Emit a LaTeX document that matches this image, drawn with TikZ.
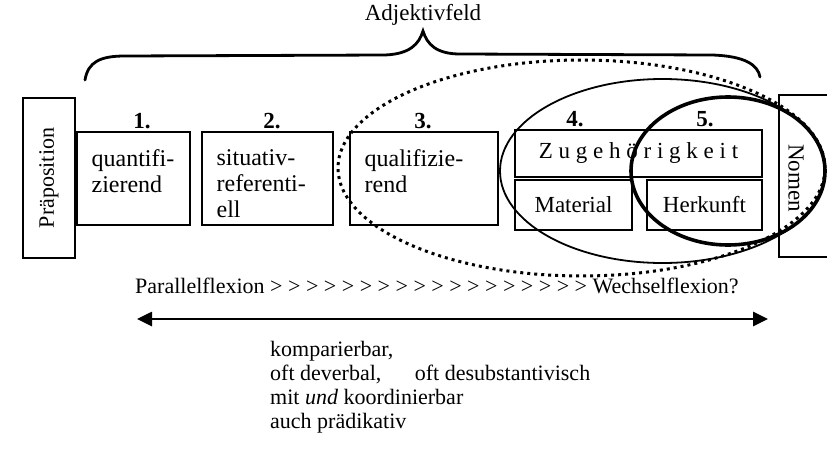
\documentclass[tikz,border=0pt]{standalone}
\usepackage{fontspec}
\setmainfont{Liberation Serif}
\usetikzlibrary{positioning, arrows.meta}

\begin{document}
\begin{tikzpicture}[
        x=1pt, y=-1pt,
        field/.style={rectangle, draw, line width=1.2pt, inner sep=0pt},
        fieldtext/.style={anchor=north west, align=left, inner sep=0pt, font=\fontsize{24}{26}\selectfont},
        boxtext/.style={inner sep=0pt, font=\fontsize{23}{25}\selectfont},
        numlabel/.style={inner sep=0pt, font=\fontsize{23}{24}\selectfont\bfseries},
        plaintext/.style={inner sep=0pt, font=\fontsize{22}{24}\selectfont},
        brace/.style={line width=2.8pt, line cap=round},
        dotring/.style={line width=3pt, dash pattern=on 3pt off 4pt},
        thinring/.style={line width=1.8pt},
        thickring/.style={line width=3.6pt},
        scalearrow/.style={{Triangle[length=15pt,width=14pt]}-{Triangle[length=15pt,width=14pt]}, line width=2.6pt}
    ]
        \useasboundingbox (0,0) rectangle (827,463);
        \clip (0,0) rectangle (827,463);

        % Adjektivfeld brace
        \node[plaintext, font=\fontsize{23}{24}\selectfont] (ADJ) at (423,15) {Adjektivfeld};
        \draw[brace] (85,80) .. controls (88,62) and (100,56) .. (125,56) -- (385,55)
            .. controls (410,54) and (419,44) .. (423,31)
            .. controls (427,44) and (436,54) .. (460,54) -- (712,55)
            .. controls (745,56) and (758,65) .. (760,77);

        % Left and right neighbours
        \node[field, minimum width=52pt, minimum height=160pt] (PRAEP) at (49,178) {};
        \node[boxtext, font=\fontsize{22}{24}\selectfont, rotate=90] at (PRAEP) {Präposition};
        \node[field, minimum width=66pt, minimum height=162pt] (NOMEN) at (812,176) {};
        \node[boxtext, rotate=-90] at (796,178) {Nomen};

        % Fields 1-3
        \node[field, minimum width=113pt, minimum height=93pt] (F1) at (133.5,178.5) {};
        \node[field, minimum width=131pt, minimum height=93pt] (F2) at (267.5,178.5) {};
        \node[field, minimum width=148pt, minimum height=93pt] (F3) at (424,178.5) {};
        \node[fieldtext, xshift=15pt, yshift=-18pt] at (F1.north west) {quantifi-\\zierend};
        \node[fieldtext, xshift=15pt, yshift=-18pt] at (F2.north west) {situativ-\\referenti-\\ell};
        \node[fieldtext, xshift=15pt, yshift=-18pt] at (F3.north west) {qualifizie-\\rend};

        % Fields 4-5
        \node[field, minimum width=247pt, minimum height=47pt] (ZUG) at (638.5,153.5) {};
        \node[boxtext] at (ZUG) {Z u g e h ö r i g k e i t};
        \node[field, minimum width=117pt, minimum height=50pt] (MAT) at (573.5,205) {};
        \node[boxtext] at (MAT) {Material};
        \node[field, minimum width=115pt, minimum height=50pt] (HERK) at (704.5,205) {};
        \node[boxtext] at (HERK) {Herkunft};

        % Numbers
        \node[numlabel] at (142,121) {1.};
        \node[numlabel] at (272,121) {2.};
        \node[numlabel] at (423,121) {3.};
        \node[numlabel] at (575,119) {4.};
        \node[numlabel] at (705,119) {5.};

        % Rings
        \draw[dotring] (581.5,168) ellipse [x radius=243.5pt, y radius=108pt];
        \draw[thinring] (662.5,171) ellipse [x radius=162.5pt, y radius=92pt];
        \draw[thickring] (728,171) ellipse [x radius=97pt, y radius=74pt];

        % Flexion scale
        \node[plaintext, anchor=base west] (FLEX) at (135,293) {Parallelflexion > > > > > > > > > > > > > > > > > > Wechselflexion?};
        \coordinate (SCALE_L) at (137,319);
        \coordinate (SCALE_R) at (768,319);
        \draw[scalearrow] (SCALE_L) -- (SCALE_R);

        % Properties
        \node[plaintext, anchor=north west, align=left] (PROPS) at (270,341)
            {komparierbar,\\oft deverbal,\hspace{28pt} oft desubstantivisch\\mit \textit{und} koordinierbar\\auch prädikativ};
    \end{tikzpicture}
\end{document}
